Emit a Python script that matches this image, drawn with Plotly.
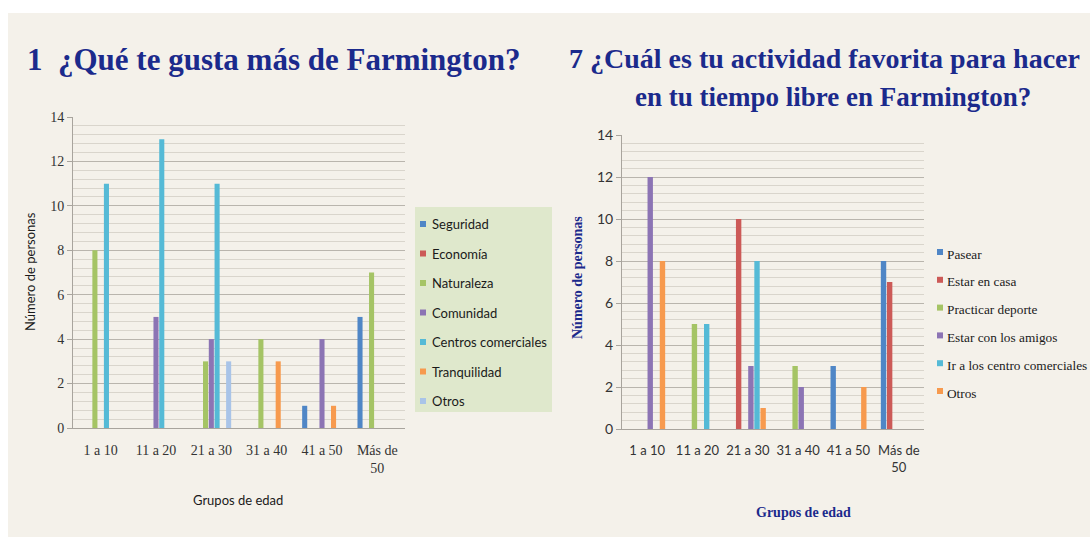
import plotly.graph_objects as go

# Age groups shared by both charts
categories = ["1 a 10", "11 a 20", "21 a 30", "31 a 40", "41 a 50", "Más de 50"]
tick_labels = ["1 a 10", "11 a 20", "21 a 30", "31 a 40", "41 a 50", "Más de<br>50"]

# Question 1: what people like most about Farmington
likes_names = ["Seguridad", "Economía", "Naturaleza", "Comunidad",
               "Centros comerciales", "Tranquilidad", "Otros"]
seguridad = [0, 0, 0, 0, 1, 5]
economia = [0, 0, 0, 0, 0, 0]
naturaleza = [8, 0, 3, 4, 0, 7]
comunidad = [0, 5, 4, 0, 4, 0]
centros_comerciales = [11, 13, 11, 0, 0, 0]
tranquilidad = [0, 0, 0, 3, 1, 0]
otros_1 = [0, 0, 3, 0, 0, 0]

# Question 7: favourite free-time activity in Farmington
activity_names = ["Pasear", "Estar en casa", "Practicar deporte",
                  "Estar con los amigos", "Ir a los centro comerciales", "Otros"]
pasear = [0, 0, 0, 0, 3, 8]
estar_en_casa = [0, 0, 10, 0, 0, 7]
practicar_deporte = [0, 5, 0, 3, 0, 0]
estar_con_amigos = [12, 0, 3, 2, 0, 0]
ir_centros = [0, 5, 8, 0, 0, 0]
otros_7 = [8, 0, 1, 0, 2, 0]

likes_values = [seguridad, economia, naturaleza, comunidad,
                centros_comerciales, tranquilidad, otros_1]
activity_values = [pasear, estar_en_casa, practicar_deporte,
                   estar_con_amigos, ir_centros, otros_7]

likes_colors = ["#4f86c6", "#cc5a57", "#a5c465", "#8c74b4",
                "#55bad6", "#f79a4e", "#a9c4e8"]
activity_colors = ["#4f86c6", "#cc5a57", "#a5c465", "#8c74b4",
                   "#55bad6", "#f79a4e"]

W, H = 1090, 537
BG = "#f4f1ea"
NAVY = "#1b2a8c"
SERIF = "Liberation Serif, Times New Roman, serif"
SANS = "Lato, Open Sans, sans-serif"


def px_x(x):
    return x / W


def px_y(y):
    return 1 - y / H


fig = go.Figure()

for name, vals, col in zip(likes_names, likes_values, likes_colors):
    fig.add_trace(go.Bar(
        x=categories, y=vals, name=name, marker_color=col,
        marker_line_width=0, xaxis="x", yaxis="y", showlegend=False,
    ))

for name, vals, col in zip(activity_names, activity_values, activity_colors):
    fig.add_trace(go.Bar(
        x=categories, y=vals, name=name, marker_color=col,
        marker_line_width=0, xaxis="x2", yaxis="y2", showlegend=False,
    ))

grid_major = "#b9b5ad"
grid_minor = "#d9d5cc"
axis_line = "#a8a49d"

common_y = dict(
    range=[0, 14], dtick=2, tick0=0, showgrid=True, gridcolor=grid_major,
    gridwidth=1, showline=True, linecolor=axis_line, ticks="outside",
    ticklen=5, tickcolor=axis_line, zeroline=False,
    minor=dict(dtick=0.4, showgrid=True, gridcolor=grid_minor, gridwidth=1),
    fixedrange=True,
)
common_x = dict(
    type="category", tickvals=categories, ticktext=tick_labels,
    showline=True, linecolor=axis_line, showgrid=False, ticks="",
    tickangle=0, ticklabelstandoff=9, fixedrange=True,
)

shapes = [
    # white strips around the slide background
    dict(type="rect", xref="paper", yref="paper", x0=0, x1=1,
         y0=px_y(13), y1=1, fillcolor="white", line_width=0, layer="below"),
    dict(type="rect", xref="paper", yref="paper", x0=0, x1=px_x(8),
         y0=0, y1=1, fillcolor="white", line_width=0, layer="below"),
    # legend panel of the first chart
    dict(type="rect", xref="paper", yref="paper", x0=px_x(415), x1=px_x(552),
         y0=px_y(412), y1=px_y(207), fillcolor="#dfe8cc", line_width=0,
         layer="below"),
]

annotations = [
    dict(text="<b>1\u00a0\u00a0¿Qué te gusta más de Farmington?</b>",
         x=px_x(25), y=px_y(60), xanchor="left",
         font=dict(family=SERIF, size=31, color=NAVY)),
    dict(text="<b>7 ¿Cuál es tu actividad favorita para hacer</b>",
         x=px_x(567), y=px_y(58), xanchor="left",
         font=dict(family=SERIF, size=28, color=NAVY)),
    dict(text="<b>en tu tiempo libre en Farmington?</b>",
         x=px_x(833), y=px_y(97), xanchor="center",
         font=dict(family=SERIF, size=27, color=NAVY)),
    dict(text="Número de personas", textangle=-90,
         x=px_x(30), y=px_y(272), xanchor="center",
         font=dict(family=SANS, size=13, color="#1a1a1a")),
    dict(text="Grupos de edad",
         x=px_x(238), y=px_y(500), xanchor="center",
         font=dict(family=SANS, size=13, color="#1a1a1a")),
    dict(text="<b>Número de personas</b>", textangle=-90,
         x=px_x(577), y=px_y(278), xanchor="center",
         font=dict(family=SERIF, size=14, color=NAVY)),
    dict(text="<b>Grupos de edad</b>",
         x=px_x(803), y=px_y(512), xanchor="center",
         font=dict(family=SERIF, size=14, color=NAVY)),
]

# Legend entries: small colour square followed by the series name
for i, (name, col) in enumerate(zip(likes_names, likes_colors)):
    yc = 224 + i * 29.5
    shapes.append(dict(type="rect", xref="paper", yref="paper",
                       x0=px_x(420), x1=px_x(426), y0=px_y(yc + 3), y1=px_y(yc - 3),
                       fillcolor=col, line_width=0))
    annotations.append(dict(text=name, x=px_x(430), y=px_y(yc), xanchor="left",
                            font=dict(family=SANS, size=13, color="#1a1a1a")))

for i, (name, col) in enumerate(zip(activity_names, activity_colors)):
    yc = 254 + i * 27.8
    shapes.append(dict(type="rect", xref="paper", yref="paper",
                       x0=px_x(937), x1=px_x(943), y0=px_y(yc + 1), y1=px_y(yc - 5),
                       fillcolor=col, line_width=0))
    annotations.append(dict(text=name, x=px_x(945), y=px_y(yc), xanchor="left",
                            font=dict(family=SERIF, size=13.3, color="#1a1a1a")))

for a in annotations:
    a.update(xref="paper", yref="paper", yanchor="middle", showarrow=False)

fig.update_layout(
    width=W, height=H,
    margin=dict(l=0, r=0, t=0, b=0, autoexpand=False),
    paper_bgcolor=BG, plot_bgcolor="rgba(0,0,0,0)",
    barmode="group", bargap=0.27, bargroupgap=0.12,
    showlegend=False,
    xaxis=dict(common_x, domain=[px_x(73), px_x(405)], anchor="y",
               tickfont=dict(family=SERIF, size=14, color="#333333")),
    yaxis=dict(common_y, domain=[px_y(428), px_y(117)], anchor="x",
               tickfont=dict(family=SERIF, size=14, color="#333333")),
    xaxis2=dict(common_x, domain=[px_x(622), px_x(924)], anchor="y2",
                tickfont=dict(family=SANS, size=13, color="#333333")),
    yaxis2=dict(common_y, domain=[px_y(429), px_y(135)], anchor="x2",
                tickfont=dict(family=SANS, size=14, color="#333333")),
    shapes=shapes,
    annotations=annotations,
)

fig.write_html("out.html")
